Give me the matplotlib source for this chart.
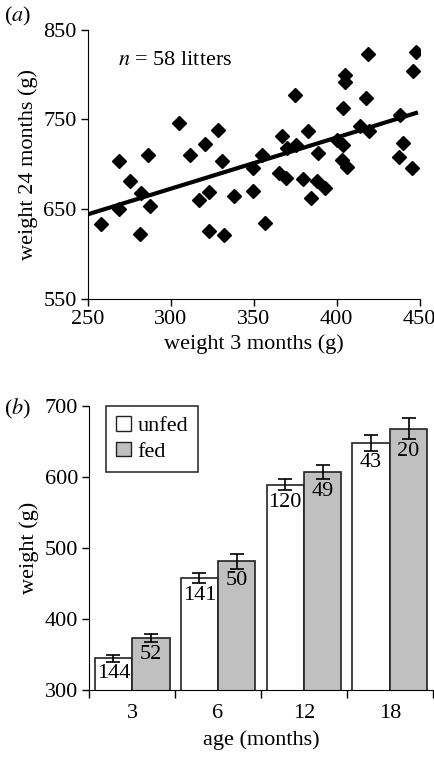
import numpy as np
import matplotlib
matplotlib.use("Agg")
import matplotlib.pyplot as plt
from matplotlib.patches import Patch

plt.rcParams['font.family'] = ['Liberation Serif', 'DejaVu Serif']
plt.rcParams['font.size'] = 16
plt.rcParams['mathtext.fontset'] = 'stix'

# --- panel (a): litter weights, 3 months vs 24 months (g) ---
w3 = [258.0, 268.9, 268.9, 275.6, 281.3, 282.3, 286.0, 287.3, 305.1, 311.3,
      317.2, 320.8, 323.1, 323.1, 328.5, 331.1, 332.0, 338.0, 349.7, 349.7,
      355.0, 356.8, 367.0, 370.1, 375.4, 365.2, 369.3, 375.1, 382.5, 379.6,
      384.4, 387.8, 388.7, 392.7, 400.2, 403.7, 402.9, 406.3, 403.9, 404.9,
      404.9, 417.5, 414.2, 419.3, 418.9, 438.0, 439.6, 437.4, 445.5, 445.7,
      447.7]
w24 = [633.2, 704.0, 649.7, 681.3, 622.6, 667.3, 710.3, 653.7, 745.8, 710.3,
       660.1, 722.6, 668.4, 625.4, 737.7, 704.0, 620.9, 664.5, 695.8, 670.4,
       709.8, 634.9, 731.6, 717.6, 721.5, 689.9, 684.6, 777.4, 736.8, 683.2,
       662.0, 681.3, 712.6, 673.5, 727.1, 720.9, 704.7, 697.3, 762.3, 799.2,
       791.3, 773.5, 742.2, 737.5, 822.8, 754.7, 723.7, 708.4, 695.5, 804.2,
       825.1]

# --- panel (b): mean weight by age, unfed vs fed ---
ages = ['3', '6', '12', '18']
unfed_mean = [345, 458, 589, 648]
unfed_err = [5, 7, 8, 11]
unfed_n = [144, 141, 120, 43]
fed_mean = [373, 481, 607, 668]
fed_err = [6, 10, 10, 15]
fed_n = [52, 50, 49, 20]

fig = plt.figure(figsize=(4.35, 7.6), dpi=100)

# ---------------- (a) ----------------
ax1 = fig.add_axes([0.202, 0.607, 0.763, 0.354])
ax1.plot(w3, w24, 'D', color='black', markersize=7, linestyle='none')
slope, icpt = np.polyfit(w3, w24, 1)
xl = np.array([250, max(w3)])
ax1.plot(xl, slope * xl + icpt, color='black', lw=3)
ax1.set_xlim(250, 450)
ax1.set_ylim(550, 850)
ax1.set_xticks([250, 300, 350, 400, 450])
ax1.set_yticks([550, 650, 750, 850])
for s in ['top', 'right']:
    ax1.spines[s].set_visible(False)
ax1.tick_params(direction='out', length=5, width=1, labelsize=16, pad=3)
ax1.set_xlabel('weight 3 months (g)', fontsize=16, labelpad=4)
ax1.set_ylabel('weight 24 months (g)', fontsize=16, labelpad=4)
ax1.text(0.09, 0.87, r'$n$ = 58 litters', transform=ax1.transAxes, fontsize=16)
fig.text(0.01, 0.972, r'($a$)', fontsize=16)

# ---------------- (b) ----------------
ax2 = fig.add_axes([0.205, 0.092, 0.79, 0.374])
pos = np.arange(len(ages))
bw = 0.435
ax2.bar(pos - bw / 2, unfed_mean, bw, yerr=unfed_err, color='white',
        edgecolor='#222222', lw=1.2, capsize=5,
        error_kw=dict(elinewidth=1.2, capthick=1.2), label='unfed')
ax2.bar(pos + bw / 2, fed_mean, bw, yerr=fed_err, color='#c0c0c0',
        edgecolor='#222222', lw=1.2, capsize=5,
        error_kw=dict(elinewidth=1.2, capthick=1.2), label='fed')
for i in range(len(ages)):
    ax2.annotate(str(unfed_n[i]), (pos[i] - bw / 2, unfed_mean[i] - unfed_err[i]),
                 xytext=(0, -2), textcoords='offset points',
                 ha='center', va='top', fontsize=16)
    ax2.annotate(str(fed_n[i]), (pos[i] + bw / 2, fed_mean[i] - fed_err[i]),
                 xytext=(0, -2), textcoords='offset points',
                 ha='center', va='top', fontsize=16)
ax2.set_xlim(-0.5, len(ages) - 0.5)
ax2.set_ylim(300, 700)
ax2.set_yticks([300, 400, 500, 600, 700])
ax2.set_xticks(pos)
ax2.set_xticklabels(ages)
ax2.set_xticks(np.arange(len(ages) + 1) - 0.5, minor=True)
ax2.tick_params(axis='x', which='major', length=0, pad=10, labelsize=16)
ax2.tick_params(axis='x', which='minor', direction='out', length=6, width=1)
ax2.tick_params(axis='y', direction='out', length=5, width=1, labelsize=16, pad=3)
for s in ['top', 'right']:
    ax2.spines[s].set_visible(False)
ax2.set_xlabel('age (months)', fontsize=16, labelpad=5)
ax2.set_ylabel('weight (g)', fontsize=16, labelpad=4)
handles = [Patch(facecolor='white', edgecolor='#222222'),
           Patch(facecolor='#c0c0c0', edgecolor='#222222')]
leg = ax2.legend(handles, ['unfed', 'fed'], loc='upper left',
                 bbox_to_anchor=(0.05, 1.0), borderaxespad=0, fontsize=16,
                 fancybox=False, edgecolor='black', handlelength=0.65,
                 handleheight=0.65, handletextpad=0.3, borderpad=0.45,
                 labelspacing=0.25)
leg.get_frame().set_linewidth(1.2)
fig.text(0.01, 0.455, r'($b$)', fontsize=16)

fig.savefig('out.png', dpi=100)
